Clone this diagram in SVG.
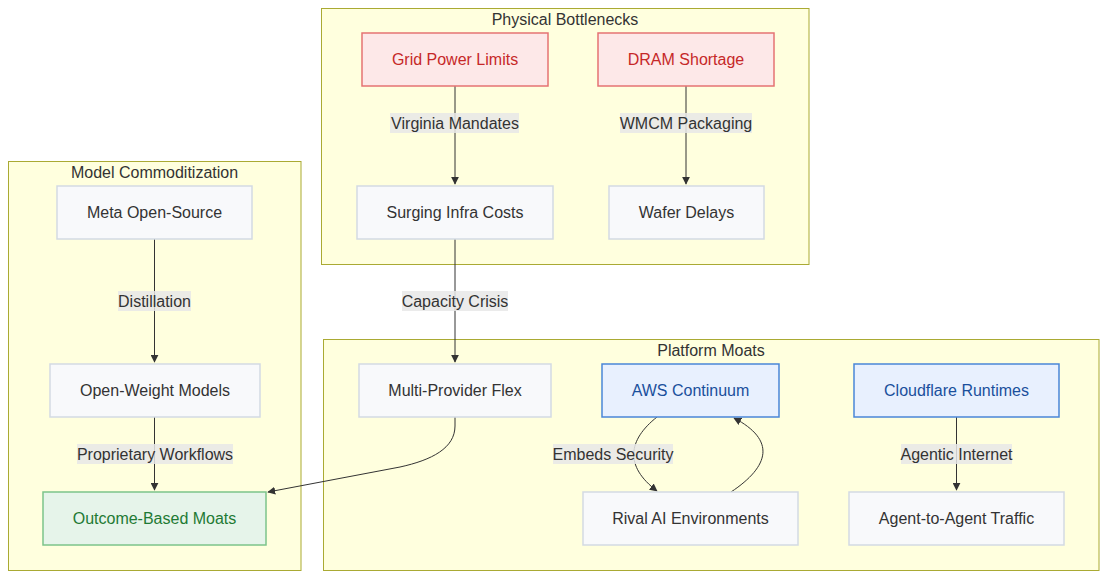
<svg xmlns="http://www.w3.org/2000/svg" width="1107" height="579" viewBox="0 0 1107 579">
<style>
text{font-family:"Liberation Sans",Arial,sans-serif;font-size:16px;fill:#333;text-anchor:middle;dominant-baseline:central}
.cl{fill:#ffffde;stroke:#aaaa33;stroke-width:1}
.n rect{fill:#f8f9fb;stroke:#d3dae3;stroke-width:1.5}
.r rect{fill:#fde8e8;stroke:#e57373;stroke-width:1.5}
.r text{fill:#c62828}
.b rect{fill:#e8f0fe;stroke:#4a86d8;stroke-width:1.5}
.b text{fill:#1a4f9c}
.g rect{fill:#e6f4ea;stroke:#7cc48a;stroke-width:1.5}
.g text{fill:#1e7a34}
.e{fill:none;stroke:#333;stroke-width:1}
.lb{fill:#e8e8e8;opacity:0.85}
</style>
<defs>
<marker id="ah" viewBox="0 0 10 10" refX="9" refY="5" markerWidth="8" markerHeight="8" markerUnits="userSpaceOnUse" orient="auto"><path d="M0,0 L10,5 L0,10 z" fill="#333"/></marker>
</defs>
<g id="clusters">
<g id="physical"><rect class="cl" x="321.5" y="8.5" width="487.5" height="256"/><text x="565" y="19">Physical Bottlenecks</text></g>
<g id="model"><rect class="cl" x="8.5" y="161.5" width="292.5" height="409"/><text x="154.5" y="172">Model Commoditization</text></g>
<g id="platform"><rect class="cl" x="323.5" y="339.5" width="775.5" height="231"/><text x="711" y="350">Platform Moats</text></g>
</g>
<g id="connectors">
<path class="e" d="M455,86 V184" marker-end="url(#ah)"/>
<path class="e" d="M686,86 V184" marker-end="url(#ah)"/>
<path class="e" d="M154.5,239 V362" marker-end="url(#ah)"/>
<path class="e" d="M455,239 V362" marker-end="url(#ah)"/>
<path class="e" d="M154.5,417 V490" marker-end="url(#ah)"/>
<path class="e" d="M455,417 V426 C455,448 432,460 400,467 L268,492" marker-end="url(#ah)"/>
<path class="e" d="M657,417 C628,440 624,466 657,491" marker-end="url(#ah)"/>
<path class="e" d="M731,492 C770,466 776,440 734,418" marker-end="url(#ah)"/>
<path class="e" d="M956.5,417 V490" marker-end="url(#ah)"/>
<g id="labels">
<rect class="lb" x="390" y="113" width="129" height="20"/><text x="455" y="123">Virginia Mandates</text>
<rect class="lb" x="620" y="113" width="132" height="20"/><text x="686" y="123">WMCM Packaging</text>
<rect class="lb" x="118" y="291" width="73" height="20"/><text x="154.5" y="301">Distillation</text>
<rect class="lb" x="402" y="291" width="106" height="20"/><text x="455" y="301">Capacity Crisis</text>
<rect class="lb" x="77" y="444" width="156" height="20"/><text x="155" y="454">Proprietary Workflows</text>
<rect class="lb" x="553" y="444" width="120" height="20"/><text x="613" y="454">Embeds Security</text>
<rect class="lb" x="901" y="444" width="111" height="20"/><text x="956.5" y="454">Agentic Internet</text>
</g>
</g>
<g id="grid" class="r"><rect x="362" y="33" width="186" height="53"/><text x="455" y="59.5">Grid Power Limits</text></g>
<g id="dram" class="r"><rect x="598" y="33" width="176" height="53"/><text x="686" y="59.5">DRAM Shortage</text></g>
<g id="surging" class="n"><rect x="357" y="186" width="196" height="53"/><text x="455" y="212.5">Surging Infra Costs</text></g>
<g id="wafer" class="n"><rect x="609" y="186" width="155" height="53"/><text x="686.5" y="212.5">Wafer Delays</text></g>
<g id="meta" class="n"><rect x="57" y="186" width="195" height="53"/><text x="154.5" y="212.5">Meta Open-Source</text></g>
<g id="openweight" class="n"><rect x="50" y="364" width="210" height="53"/><text x="155" y="390.5">Open-Weight Models</text></g>
<g id="outcome" class="g"><rect x="43" y="492" width="223" height="53"/><text x="154.5" y="518.5">Outcome-Based Moats</text></g>
<g id="multi" class="n"><rect x="359" y="364" width="192" height="53"/><text x="455" y="390.5">Multi-Provider Flex</text></g>
<g id="aws" class="b"><rect x="602" y="364" width="177" height="53"/><text x="690.5" y="390.5">AWS Continuum</text></g>
<g id="cloudflare" class="b"><rect x="854" y="364" width="205" height="53"/><text x="956.5" y="390.5">Cloudflare Runtimes</text></g>
<g id="rival" class="n"><rect x="583" y="492" width="215" height="53"/><text x="690.5" y="518.5">Rival AI Environments</text></g>
<g id="agent" class="n"><rect x="849" y="492" width="215" height="53"/><text x="956.5" y="518.5">Agent-to-Agent Traffic</text></g>
</svg>
